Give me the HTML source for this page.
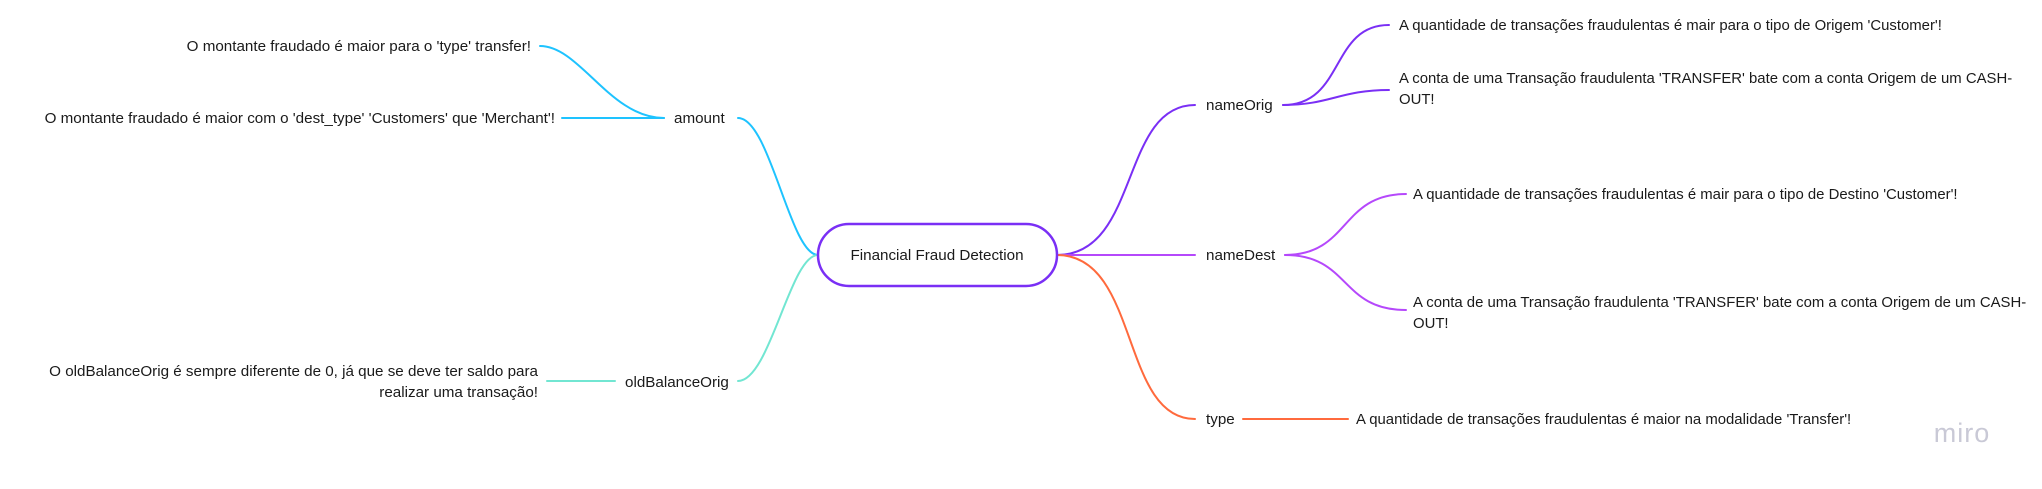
<!DOCTYPE html>
<html><head><meta charset="utf-8"><style>
html,body{margin:0;padding:0;background:#fff;}
svg{display:block;}
text{font-family:"Liberation Sans",sans-serif;font-size:15.2px;fill:#1a1a1a;}
.r{font-size:14.9px;}
</style></head><body>
<svg width="2042" height="489" viewBox="0 0 2042 489" xmlns="http://www.w3.org/2000/svg">
<g fill="none" stroke-width="2" stroke-linecap="round">
<path d="M818 255 C790 255 770 118 738 118" stroke="#1ec3ff"/>
<path d="M664 118 L562 118" stroke="#1ec3ff"/>
<path d="M664 118 C610 118 580 46 540 46" stroke="#1ec3ff"/>
<path d="M818 255 C790 255 770 381 738 381" stroke="#72e6d2"/>
<path d="M615 381 L547 381" stroke="#72e6d2"/>
<path d="M1057 255 C1140 255 1120 105 1195 105" stroke="#7a2ff5"/>
<path d="M1283 105 C1345 105 1330 25 1389 25" stroke="#7a2ff5"/>
<path d="M1283 105 C1330 105 1340 90 1389 90" stroke="#7a2ff5"/>
<path d="M1057 255 L1195 255" stroke="#b548fb"/>
<path d="M1285 255 C1350 255 1340 194 1406 194" stroke="#b548fb"/>
<path d="M1285 255 C1350 255 1340 310 1406 310" stroke="#b548fb"/>
<path d="M1057 255 C1140 255 1120 419 1195 419" stroke="#ff6a3d"/>
<path d="M1243 419 L1348 419" stroke="#ff6a3d"/>
<rect x="818" y="224" width="239" height="62" rx="31" ry="31" stroke="#7a2ff5" stroke-width="2.5"/>
</g>
<text x="937" y="260" text-anchor="middle">Financial Fraud Detection</text>
<text x="674" y="123">amount</text>
<text x="531" y="51" text-anchor="end">O montante fraudado é maior para o 'type' transfer!</text>
<text x="555" y="123" text-anchor="end">O montante fraudado é maior com o 'dest_type' 'Customers' que 'Merchant'!</text>
<text x="625" y="387">oldBalanceOrig</text>
<text x="538" y="376" text-anchor="end">O oldBalanceOrig é sempre diferente de 0, já que se deve ter saldo para</text>
<text x="538" y="397" text-anchor="end">realizar uma transação!</text>
<text x="1206" y="110">nameOrig</text>
<text class="r" x="1399" y="30">A quantidade de transações fraudulentas é mair para o tipo de Origem 'Customer'!</text>
<text class="r" x="1399" y="83">A conta de uma Transação fraudulenta 'TRANSFER' bate com a conta Origem de um CASH-</text>
<text class="r" x="1399" y="104">OUT!</text>
<text x="1206" y="260">nameDest</text>
<text class="r" x="1413" y="199">A quantidade de transações fraudulentas é mair para o tipo de Destino 'Customer'!</text>
<text class="r" x="1413" y="307">A conta de uma Transação fraudulenta 'TRANSFER' bate com a conta Origem de um CASH-</text>
<text class="r" x="1413" y="328">OUT!</text>
<text x="1206" y="424">type</text>
<text class="r" x="1356" y="424">A quantidade de transações fraudulentas é maior na modalidade 'Transfer'!</text>
<text x="1962" y="442" text-anchor="middle" style="font-size:27px;fill:#c9c9d6;letter-spacing:1px">miro</text>
</svg>
</body></html>
